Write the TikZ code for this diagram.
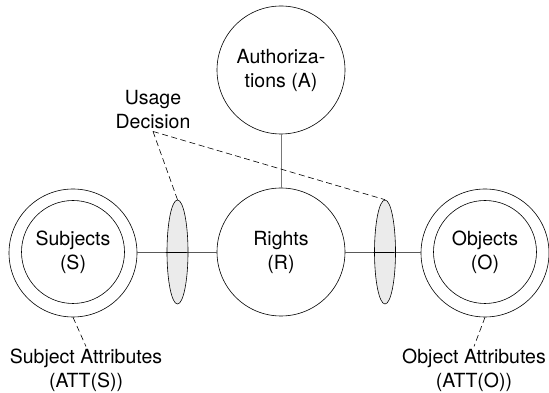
\documentclass[tikz,border=0pt]{standalone}
\usepackage{fontspec}
\setmainfont{TeX Gyre Heros}
\usetikzlibrary{shapes.geometric}
\begin{document}
\begin{tikzpicture}[x=1pt,y=1pt,
    font=\fontsize{19.5}{24}\selectfont,
    every node/.style={align=center, inner sep=0pt},
    bigcircle/.style={draw, circle, line width=0.6pt, minimum size=128pt},
    innercircle/.style={draw, circle, line width=0.6pt, minimum size=103pt},
    decision/.style={draw, ellipse, line width=0.6pt, fill=decisiongray, minimum width=21pt, minimum height=104pt},
    link/.style={line width=0.6pt},
    hint/.style={line width=0.6pt, dash pattern=on 6pt off 3.5pt}]

% Colors
\definecolor{decisiongray}{RGB}{235,235,235}
\definecolor{linkgray}{RGB}{120,120,120}

% Parameters
\def\yRow{141}
\def\yLabel{23}

\useasboundingbox (0,0) rectangle (549,393);

% Usage decisions
\node[decision] (E1) at (177.5,\yRow) {};
\node[decision] (E2) at (385,\yRow) {};

% Main sets
\node[bigcircle] (A) at (281,323) {Authoriza-\\tions (A)};
\node[bigcircle] (R) at (281,\yRow) {Rights\\(R)};

% Subjects and objects with attribute rings
\node[bigcircle] (Sout) at (73,140) {};
\node[innercircle] (S) at (73,141) {Subjects\\(S)};
\node[bigcircle] (Oout) at (485,140) {};
\node[innercircle] (O) at (485,141) {Objects\\(O)};

% Links
\draw[link] (Sout) -- (R);
\draw[link] (R) -- (Oout);
\draw[link, draw=linkgray] (A) -- (R);

% Labels
\node (UD) at (153,283) {Usage\\Decision};
\node (SA) at (86,\yLabel) {Subject Attributes\\(ATT(S))};
\node (OA) at (474,\yLabel) {Object Attributes\\(ATT(O))};

% Dashed pointers
\coordinate (UDp) at ([yshift=-2pt]UD.south);
\draw[hint] (UDp) -- (E1.north);
\draw[hint] (UDp) -- (E2.north);
\draw[hint] (Sout.south) -- ([yshift=2pt]SA.north);
\draw[hint] (Oout.south) -- ([yshift=2pt]OA.north);
\end{tikzpicture}
\end{document}
